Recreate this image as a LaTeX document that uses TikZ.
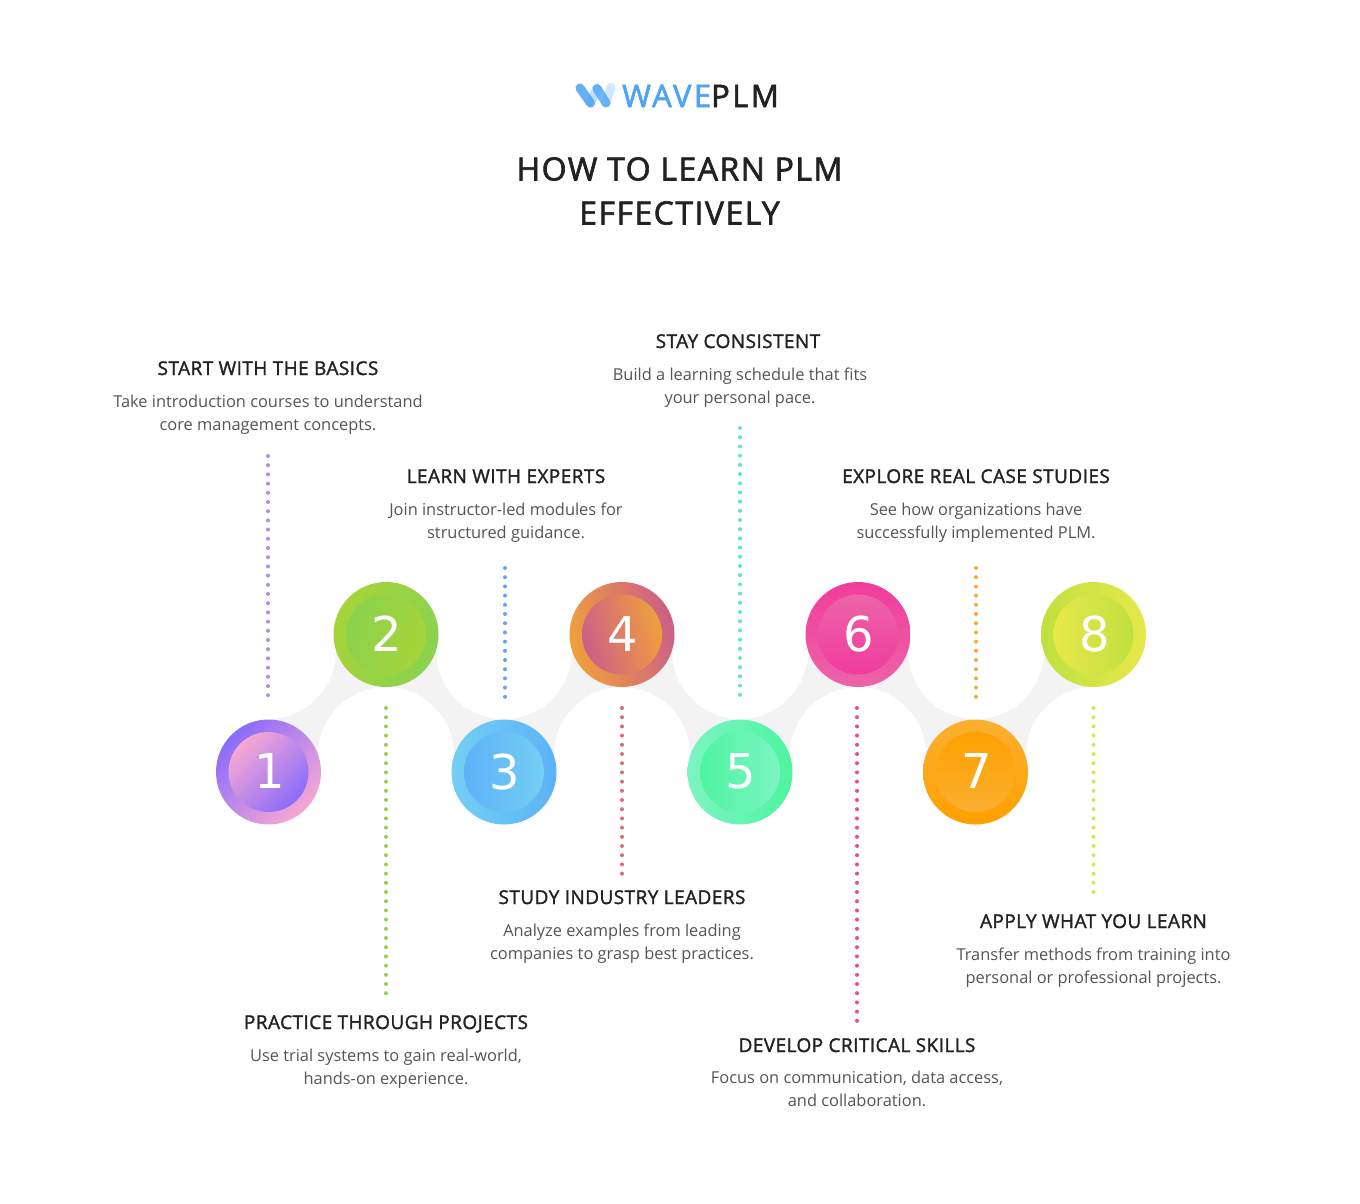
\documentclass[tikz,border=0pt]{standalone}
\usepackage{fontspec}
\setmainfont{Open Sans}
\newfontfamily\digitfont{DejaVu Sans}
\newfontfamily\headfont[FakeBold=1.6,LetterSpace=2.3]{Open Sans}
\newfontfamily\titlefont[FakeBold=2,LetterSpace=4.6]{Open Sans}
\newfontfamily\logofont[FakeBold=2,LetterSpace=8]{Open Sans}
\usetikzlibrary{calc}
\definecolor{hd}{HTML}{222222}
\definecolor{bd}{HTML}{555555}
\definecolor{wavegrey}{HTML}{F3F3F4}
\definecolor{logoblue}{HTML}{4DA3F5}
\definecolor{a1}{HTML}{8A6CFB}\definecolor{b1}{HTML}{F7A8D3}
\definecolor{a2}{HTML}{A6D438}\definecolor{b2}{HTML}{8AD24E}
\definecolor{a3}{HTML}{74CFF3}\definecolor{b3}{HTML}{5CB2F8}
\definecolor{a4}{HTML}{F0A03C}\definecolor{b4}{HTML}{CC5E88}
\definecolor{a5}{HTML}{7DF4C3}\definecolor{b5}{HTML}{4EF4A0}
\definecolor{a6}{HTML}{F03C9C}\definecolor{b6}{HTML}{EC64A8}
\definecolor{a7}{HTML}{FFA000}\definecolor{b7}{HTML}{FAB030}
\definecolor{a8}{HTML}{BFE040}\definecolor{b8}{HTML}{E8E84A}
\definecolor{d1}{HTML}{AE8EE8}\definecolor{d2}{HTML}{93D24E}
\definecolor{d3}{HTML}{5FA6F0}\definecolor{d4}{HTML}{DA6E6E}
\definecolor{d5}{HTML}{5FEBB5}\definecolor{d6}{HTML}{EE4A90}
\definecolor{d7}{HTML}{FAA92A}\definecolor{d8}{HTML}{D2EA50}
\tikzset{
  headtext/.style={font=\fontsize{19}{23}\selectfont\headfont, text=hd, inner sep=0pt, anchor=base},
  bodytext/.style={font=\fontsize{16.4}{23}\selectfont, text=bd, inner sep=0pt, align=center, anchor=center},
  titletext/.style={font=\fontsize{32}{44}\selectfont\titlefont, text=hd, inner sep=0pt, align=center, anchor=center},
  dots/.style={line width=4pt, line cap=round, dash pattern=on 0pt off 9.2pt},
  outerdisc/.style={circle, minimum size=105pt, inner sep=0pt},
  innerdisc/.style={circle, minimum size=80pt, inner sep=0pt, text=white, font=\fontsize{48}{48}\selectfont\digitfont},
  logostroke/.style={line width=9pt, line cap=round, color=logoblue}
}
\begin{document}
\begin{tikzpicture}[x=1pt,y=-1pt]
\useasboundingbox (0,0) rectangle (1360,1203);
\fill[white] (0,0) rectangle (1360,1203);
% disc centres
\foreach \i/\x/\y in {1/268.5/772,2/386/634.5,3/504/772,4/622/634.5,5/740/772,6/858/634.5,7/975.5/772,8/1093.5/634.5}
  \coordinate (p\i) at (\x,\y);
% wave band
\draw[wavegrey, line width=60pt] (p1)--(p2)--(p3)--(p4)--(p5)--(p6)--(p7)--(p8);
\foreach \x in {268,504,740,976} \fill[white] (\x,651) circle (68);
\foreach \x in {386,622,858,1094} \fill[white] (\x,755) circle (68);
% discs
\foreach \i/\ang in {1/45,2/70,3/90,4/105,5/90,6/0,7/180,8/90}{
  \node[outerdisc, left color=a\i, right color=b\i, shading angle=\ang] (o\i) at (p\i) {};
  \node[innerdisc, left color=b\i, right color=a\i, shading angle=\ang] (n\i) at (p\i) {\raisebox{1.5pt}{\hspace*{2pt}\i}};
}
% logo
\node[inner sep=0pt, anchor=base west, font=\fontsize{31}{31}\selectfont\logofont] (logo) at (622,107) {\textcolor{logoblue}{WAVE}\textcolor{hd}{PLM}};
\coordinate (w1) at (580,88);\coordinate (w2) at (590.5,103);\coordinate (w3) at (597,88.5);\coordinate (w4) at (606,103);\coordinate (w5) at (611,87.5);
\draw[logostroke, opacity=.85] (w1)--(w2);
\draw[logostroke, opacity=.35] (w2)--(w3);
\draw[logostroke, opacity=.8] (w3)--(w4);
\draw[logostroke, opacity=.25] (w4)--(w5);
% title
\node[titletext] (title) at (679.5,191) {HOW TO LEARN PLM\\EFFECTIVELY};
% labels
\node[headtext] (h1) at (268,375) {START WITH THE BASICS};
\node[bodytext] (t1) at (268,414.5) {Take introduction courses to understand\\core management concepts.};
\node[headtext] (h3) at (506,483) {LEARN WITH EXPERTS};
\node[bodytext] (t3) at (506,523) {Join instructor-led modules for\\structured guidance.};
\node[headtext] (h5) at (738,348) {STAY CONSISTENT};
\node[bodytext] (t5) at (740,388) {Build a learning schedule that fits\\your personal pace.};
\node[headtext] (h7) at (976,483) {EXPLORE REAL CASE STUDIES};
\node[bodytext] (t7) at (976,523) {See how organizations have\\successfully implemented PLM.};
\node[headtext] (h2) at (386,1029) {PRACTICE THROUGH PROJECTS};
\node[bodytext] (t2) at (386,1069) {Use trial systems to gain real-world,\\hands-on experience.};
\node[headtext] (h4) at (622,904) {STUDY INDUSTRY LEADERS};
\node[bodytext] (t4) at (622,944) {Analyze examples from leading\\companies to grasp best practices.};
\node[headtext] (h6) at (857,1052) {DEVELOP CRITICAL SKILLS};
\node[bodytext] (t6) at (857,1089) {Focus on communication, data access,\\and collaboration.};
\node[headtext] (h8) at (1093.5,928) {APPLY WHAT YOU LEARN};
\node[bodytext] (t8) at (1093.5,968) {Transfer methods from training into\\personal or professional projects.};
% dotted connectors
\foreach \i/\x/\ya/\yb in {1/268/456/697,2/386/708/994,3/505/568/697,4/622/708/875,5/740/428/697,6/857/708/1023,7/976/568/697,8/1093.5/708/893}{
  \coordinate (s\i) at (\x,\ya);\coordinate (e\i) at (\x,\yb);
  \draw[dots, color=d\i] (s\i)--(e\i);
}
\end{tikzpicture}
\end{document}
